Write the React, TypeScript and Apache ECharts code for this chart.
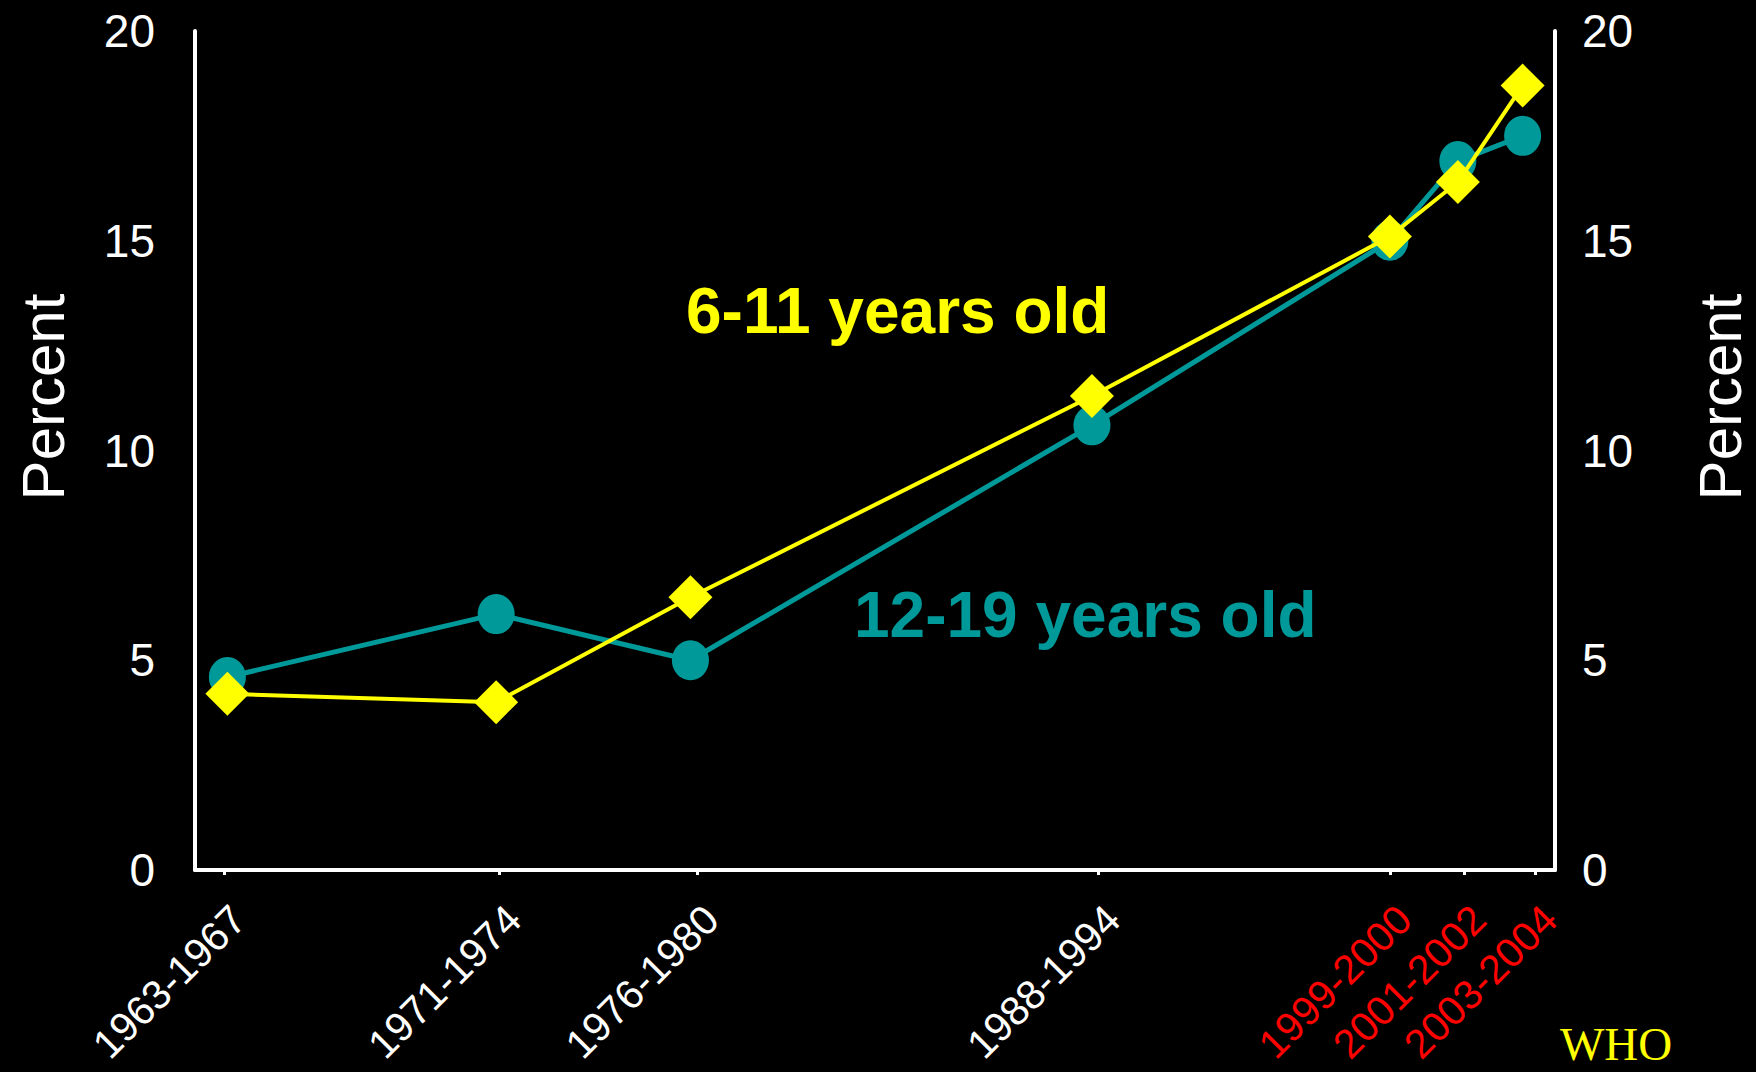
import React, { useEffect, useRef } from "react";
import * as echarts from "echarts";

const periodLabels = ["1963-1967", "1971-1974", "1976-1980", "1988-1994", "1999-2000", "2001-2002", "2003-2004"];
const redPeriods = ["1999-2000", "2001-2002", "2003-2004"];
const tickPositions = [1963.9, 1972.4, 1978.5, 1990.9, 1999.9, 2002.2, 2004.4];
const pointPositions = [1964.0, 1972.3, 1978.3, 1990.7, 1999.9, 2002.0, 2004.0];
const teens12to19 = [4.6, 6.1, 5.0, 10.6, 15.0, 16.9, 17.5];
const kids6to11 = [4.2, 4.0, 6.5, 11.3, 15.1, 16.4, 18.7];
const yTicks = [0, 5, 10, 15, 20];

const TEAL = "#009999";
const YELLOW = "#FFFF00";
const SANS = "'Liberation Sans', Arial, sans-serif";

export default function App() {
  const ref = useRef<HTMLDivElement>(null);

  useEffect(() => {
    document.body.style.margin = "0";
    document.body.style.background = "#000";
    const chart = echarts.init(ref.current!, null, { renderer: "svg" });

    const shadow = {
      textShadowColor: "rgba(140,140,140,0.9)",
      textShadowOffsetX: 2,
      textShadowOffsetY: 2,
      textShadowBlur: 0,
    };

    const yAxisCommon = (pos: "left" | "right", margin: number) => ({
      type: "value",
      position: pos,
      min: yTicks[0],
      max: yTicks[yTicks.length - 1],
      interval: 5,
      axisLine: { show: true, onZero: false, lineStyle: { color: "#fff", width: 4 } },
      axisTick: { show: false },
      splitLine: { show: false },
      axisLabel: { color: "#fff", fontSize: 46, fontFamily: SANS, margin, ...shadow },
    });

    const percentText = (x: number) => ({
      type: "text",
      x,
      y: 397,
      rotation: Math.PI / 2,
      style: {
        text: "Percent",
        fill: "#fff",
        font: `60px ${SANS}`,
        textAlign: "center",
        textVerticalAlign: "middle",
        ...shadow,
      },
    });

    chart.setOption({
      animation: false,
      backgroundColor: "#000",
      grid: { left: 195, right: 201, top: 31, bottom: 202, containLabel: false, outerBoundsMode: "none" },
      xAxis: {
        type: "value",
        min: 1963,
        max: 2005,
        axisLine: { show: true, onZero: false, lineStyle: { color: "#fff", width: 4 } },
        splitLine: { show: false },
        axisTick: { show: true, customValues: tickPositions, length: 5, lineStyle: { color: "#fff", width: 3 } },
        axisLabel: {
          customValues: tickPositions,
          rotate: 45,
          margin: 28,
          verticalAlign: "top",
          formatter: (v: number) => {
            let idx = 0;
            let best = Infinity;
            tickPositions.forEach((p, i) => {
              const d = Math.abs(p - v);
              if (d < best) { best = d; idx = i; }
            });
            const lab = periodLabels[idx];
            return redPeriods.includes(lab) ? `{r|${lab}}` : `{w|${lab}}`;
          },
          rich: {
            w: { color: "#fff", fontSize: 41, fontFamily: SANS, ...shadow },
            r: { color: "#FF0000", fontSize: 41, fontFamily: SANS },
          },
        },
      },
      yAxis: [yAxisCommon("left", 40), yAxisCommon("right", 27)],
      series: [
        {
          name: "12-19 years old",
          type: "line",
          yAxisIndex: 0,
          data: pointPositions.map((x, i) => [x, teens12to19[i]]),
          lineStyle: { color: TEAL, width: 5 },
          itemStyle: { color: TEAL },
          symbol: "circle",
          symbolSize: [37, 40],
          z: 2,
        },
        {
          name: "6-11 years old",
          type: "line",
          yAxisIndex: 0,
          data: pointPositions.map((x, i) => [x, kids6to11[i]]),
          lineStyle: { color: YELLOW, width: 4 },
          itemStyle: { color: YELLOW },
          symbol: "diamond",
          symbolSize: 44,
          z: 3,
        },
      ],
      graphic: [
        percentText(43),
        percentText(1720),
        {
          type: "text",
          left: 686,
          top: 279,
          style: { text: "6-11 years old", fill: YELLOW, font: `bold 64px ${SANS}` },
        },
        {
          type: "text",
          left: 854,
          top: 583,
          style: { text: "12-19 years old", fill: TEAL, font: `bold 64px ${SANS}` },
        },
        {
          type: "text",
          left: 1560,
          top: 1020,
          style: { text: "WHO", fill: YELLOW, font: "47px 'Liberation Serif', 'Times New Roman', serif" },
        },
      ],
    });

    return () => chart.dispose();
  }, []);

  return <div ref={ref} style={{ width: 1756, height: 1072 }} />;
}
